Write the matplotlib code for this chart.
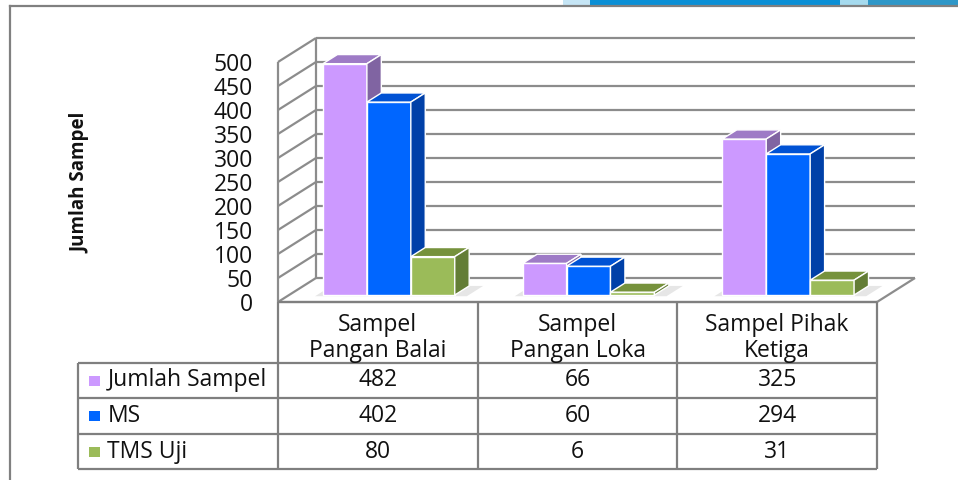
import matplotlib
matplotlib.use("Agg")
import matplotlib.pyplot as plt
import matplotlib.transforms as mtransforms
from matplotlib.patches import Polygon, Rectangle
from matplotlib.lines import Line2D

# data
categories = ["Sampel\nPangan Balai", "Sampel\nPangan Loka", "Sampel Pihak\nKetiga"]
series = ["Jumlah Sampel", "MS", "TMS Uji"]
jumlah_sampel = [482, 66, 325]
ms = [402, 60, 294]
tms_uji = [80, 6, 31]
values = [jumlah_sampel, ms, tms_uji]
yticks = list(range(0, 501, 50))

front_col = ["#CC99FF", "#0066FF", "#9BBB59"]
top_col = ["#9E7BC6", "#0052D4", "#76923C"]
side_col = ["#8064A2", "#0040A8", "#637D35"]
grid_col = "#8c8c8c"

plt.rcParams["font.family"] = ["Open Sans", "DejaVu Sans"]

W, H = 958, 480
fig = plt.figure(figsize=(W / 100, H / 100), dpi=100)
ax = fig.add_axes([278 / W, (H - 302) / H, (877 - 278) / W, 240 / H])
ax.set_xlim(0, 3)
ax.set_ylim(0, 500)
for s in ax.spines.values():
    s.set_visible(False)
ax.patch.set_visible(False)
ax.set_xticks([])
ax.set_yticks(yticks)
ax.tick_params(axis="y", length=0, pad=18, labelsize=16.5, labelcolor="#111111")

IDT = mtransforms.IdentityTransform()
DX, DY = 38, 24          # depth offset of back wall in pixels
D0, D1 = 0.29, 0.67      # bar depth range
BW = 0.22                # bar width in category units


def proj(x, v, d):
    px, py = ax.transData.transform((x, v))
    return (px + DX * d, py + DY * d)


def poly(pts, fc, ec="none", lw=0, z=1):
    ax.add_patch(Polygon(pts, closed=True, facecolor=fc, edgecolor=ec,
                         linewidth=lw, transform=IDT, clip_on=False, zorder=z))


def line(p, q, color=grid_col, lw=1.6, z=2, tr=IDT):
    ax.add_line(Line2D([p[0], q[0]], [p[1], q[1]], color=color, lw=lw,
                       transform=tr, clip_on=False, zorder=z,
                       solid_capstyle="butt"))


# walls and floor
poly([proj(0, 0, 1), proj(3, 0, 1), proj(3, 500, 1), proj(0, 500, 1)], "white")
poly([proj(0, 0, 0), proj(0, 0, 1), proj(0, 500, 1), proj(0, 500, 0)], "white")
poly([proj(0, 0, 0), proj(3, 0, 0), proj(3, 0, 1), proj(0, 0, 1)], "white")
for v in yticks:
    line(proj(0, v, 1), proj(3, v, 1))
    line(proj(0, v, 0), proj(0, v, 1))
line(proj(0, 0, 0), proj(0, 500, 0))
line(proj(0, 0, 1), proj(0, 500, 1))
line(proj(0, 0, 0), proj(3, 0, 0))
line(proj(3, 0, 0), proj(3, 0, 1))

# bars
for i in range(len(categories)):
    g0 = i + 0.5 - 1.5 * BW
    g1 = g0 + 3 * BW
    # soft shadow on the floor
    poly([proj(g0 - 0.03, 0, D0 - 0.05), proj(g1 + 0.07, 0, D0 - 0.05),
          proj(g1 + 0.07, 0, D1), proj(g0 - 0.03, 0, D1)],
         "#e6e6e6", z=3)
    for j in range(len(series)):
        v = values[j][i]
        x0 = g0 + j * BW
        x1 = x0 + BW
        z = 5 + j
        poly([proj(x0, 0, D0), proj(x1, 0, D0), proj(x1, v, D0), proj(x0, v, D0)],
             front_col[j], "white", 1.0, z)
        poly([proj(x0, v, D0), proj(x1, v, D0), proj(x1, v, D1), proj(x0, v, D1)],
             top_col[j], "white", 1.0, z)
        poly([proj(x1, 0, D0), proj(x1, 0, D1), proj(x1, v, D1), proj(x1, v, D0)],
             side_col[j], "white", 1.0, z)

# data table below the chart
tb = mtransforms.blended_transform_factory(ax.transData, IDT)
row_y = [H - 302, H - 363, H - 398, H - 434, H - 469]
tab_col = "#7f7f7f"
for k, y in enumerate(row_y):
    x_start = 0 if k == 0 else -1
    line((x_start, y), (3, y), tab_col, 1.6, 2, tb)
for x in range(4):
    line((x, row_y[0]), (x, row_y[-1]), tab_col, 1.6, 2, tb)
line((-1, row_y[1]), (-1, row_y[-1]), tab_col, 1.6, 2, tb)

for i, c in enumerate(categories):
    ax.text(i + 0.5, H - 338, c, transform=tb, ha="center",
            va="center", fontsize=16.5, linespacing=1.08, color="#111111")
for j, name in enumerate(series):
    yc = (row_y[j + 1] + row_y[j + 2]) / 2
    sx, _ = tb.transform((-1, 0))
    ax.add_patch(Rectangle((sx + 11, yc - 5), 11, 10, facecolor=front_col[j],
                           edgecolor="none", transform=IDT, clip_on=False))
    ax.text(sx + 29, yc, name, transform=IDT, ha="left", va="center",
            fontsize=16.5, color="#111111")
    for i in range(len(categories)):
        ax.text(i + 0.5, yc, str(values[j][i]), transform=tb, ha="center",
                va="center", fontsize=16.5, color="#111111")

fig.text(80 / W, 1 - 183 / H, "Jumlah Sampel", rotation=90, ha="center",
         va="center", fontsize=13.5, fontweight="bold", color="#111111")

# outer frame and banner strip at the top right
fig.add_artist(Line2D([10, 10], [0, H - 6], color="#808080", lw=1.6, transform=IDT))
fig.add_artist(Line2D([10, W], [H - 6, H - 6], color="#808080", lw=1.6, transform=IDT))
for x0, x1, c in [(563, 590, "#c5e5f5"), (590, 840, "#0a8fd6"),
                  (840, 868, "#a5daee"), (868, W, "#2e97c8")]:
    fig.add_artist(Rectangle((x0, H - 5), x1 - x0, 5, facecolor=c,
                             edgecolor="none", transform=IDT))

fig.savefig("out.png", dpi=100)
